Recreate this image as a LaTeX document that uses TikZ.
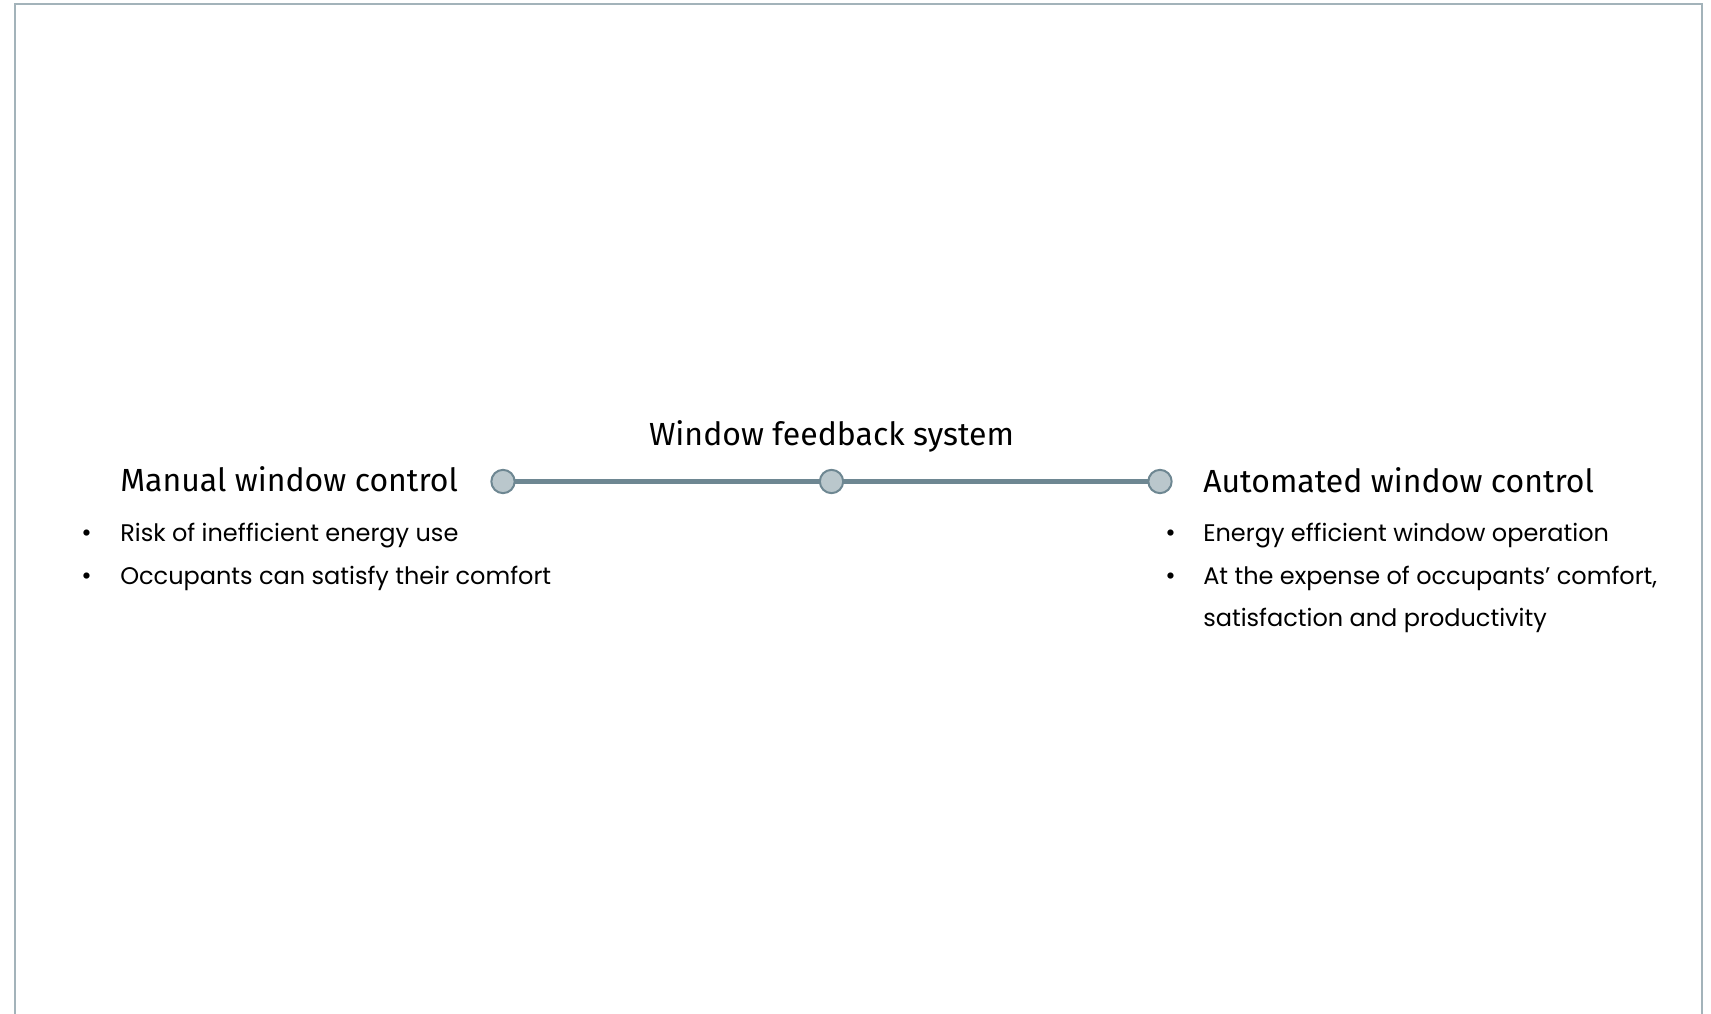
\documentclass[tikz,border=0pt]{standalone}
\usepackage{fontspec}
\setmainfont{Poppins}
\newfontfamily\headfont{Fira Sans}
\definecolor{framegray}{HTML}{A3B3BA}
\definecolor{axisline}{HTML}{6E8792}
\definecolor{dotfill}{HTML}{BAC7CC}
\begin{document}
\begin{tikzpicture}[x=0.75pt,y=-0.75pt,
  heading/.style={inner sep=0pt, anchor=base west, font=\headfont\fontsize{24pt}{29pt}\selectfont},
  title/.style={inner sep=0pt, anchor=base, font=\headfont\fontsize{24pt}{29pt}\selectfont},
  item/.style={inner sep=0pt, anchor=base west, font=\fontsize{18pt}{22pt}\selectfont},
  bulletmark/.style={inner sep=0pt, anchor=base west, font=\fontsize{19pt}{22pt}\selectfont},
  dot/.style={circle, draw=axisline, fill=dotfill, line width=1.5pt, minimum size=17.5pt, inner sep=0pt},
  axis/.style={draw=axisline, line width=3.8pt}]
\useasboundingbox (0,0) rectangle (1711,1014);
% open frame round the page
\draw[framegray, line width=1.2pt] (15,1014) -- (15,4) -- (1702,4) -- (1702,1014);

% scale from manual to automated control
\coordinate (lpos) at (503,481.5);
\coordinate (mpos) at (831.5,481.5);
\coordinate (rpos) at (1160,481.5);
\draw[axis] (lpos) -- (rpos);
\node[dot] (left) at (lpos) {};
\node[dot] (mid) at (mpos) {};
\node[dot] (right) at (rpos) {};

\node[title] (system) at (831.5,445) {Window feedback system};

% manual side
\node[heading] (manual) at (120,491.7) {Manual window control};
\node[bulletmark] (mb1) at (81,541.5) {•};
\node[item] (m1) at (120,541.5) {Risk of inefficient energy use};
\node[bulletmark] (mb2) at (81,584) {•};
\node[item] (m2) at (120,584) {Occupants can satisfy their comfort};

% automated side
\node[heading] (auto) at (1203,492.7) {Automated window control};
\node[bulletmark] (ab1) at (1165,541.5) {•};
\node[item] (a1) at (1203,541.5) {Energy efficient window operation};
\node[bulletmark] (ab2) at (1165,584) {•};
\node[item] (a2) at (1203,584) {At the expense of occupants’ comfort,};
\node[item] (a3) at (1203,626.5) {satisfaction and productivity};
\end{tikzpicture}
\end{document}
